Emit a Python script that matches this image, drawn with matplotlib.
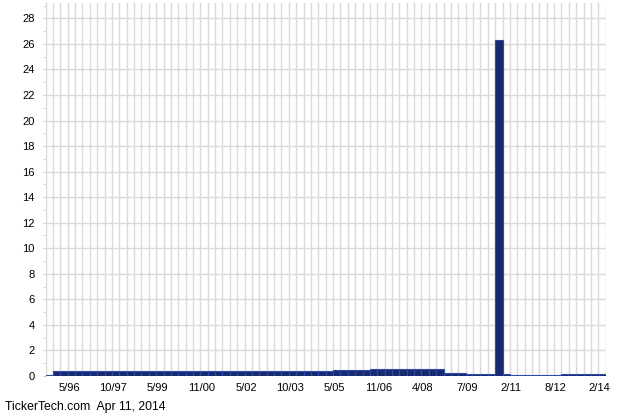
import matplotlib
matplotlib.use("Agg")
import matplotlib.pyplot as plt
from matplotlib.ticker import MultipleLocator

# valores por periodo (una barra por dividendo, aprox. trimestral)
vals_inicio = [0.06]
vals_040 = [0.40] * 38
vals_045 = [0.45] * 5
vals_053 = [0.53] * 10
vals_020 = [0.20] * 3
vals_bajos = [0.12] * 4
vals_especial = [26.30]
vals_post = [0.12] + [0.06] * 7
vals_final = [0.15] * 6

valores = (vals_inicio + vals_040 + vals_045 + vals_053 + vals_020
           + vals_bajos + vals_especial + vals_post + vals_final)

etiquetas = ['5/96', '10/97', '5/99', '11/00', '5/02', '10/03', '5/05',
             '11/06', '4/08', '7/09', '2/11', '8/12', '2/14']
pos_etiquetas = [3 + 6 * k for k in range(len(etiquetas))]

plt.rcParams['font.family'] = ['Liberation Sans', 'DejaVu Sans']

fig = plt.figure(figsize=(6.4, 4.2), dpi=100)
ax = fig.add_axes([0.0713, 0.1048, 0.8751, 0.8881])

x = list(range(len(valores)))
ax.bar(x, valores, width=1.0, align='edge', color='#172a6e',
       edgecolor='#2c4aa8', linewidth=0.8, zorder=3)

ax.set_xlim(0, len(valores))
ax.set_ylim(0, 29.2)

# rejilla gris clara
ax.xaxis.set_minor_locator(MultipleLocator(1))
ax.yaxis.set_major_locator(MultipleLocator(2))
ax.yaxis.set_minor_locator(MultipleLocator(1))
ax.grid(True, which='minor', axis='x', color='#dadada', linewidth=1.0, zorder=0)
ax.grid(True, which='major', axis='y', color='#dadada', linewidth=1.0, zorder=0)

ax.set_xticks([p + 0.2 for p in pos_etiquetas])
ax.set_xticklabels(etiquetas)
ax.tick_params(axis='x', which='both', length=0, pad=5, labelsize=8, colors='black')
ax.tick_params(axis='y', which='major', length=2, color='#cccccc', pad=6, labelsize=8)
ax.tick_params(axis='y', which='minor', length=2, color='#cccccc')

for lado in ['top', 'right', 'bottom']:
    ax.spines[lado].set_visible(False)
ax.spines['left'].set_color('#dadada')

fig.text(0.008, 0.017, 'TickerTech.com  Apr 11, 2014', fontsize=8.8, ha='left', va='bottom')

fig.savefig('out.png', dpi=100)
